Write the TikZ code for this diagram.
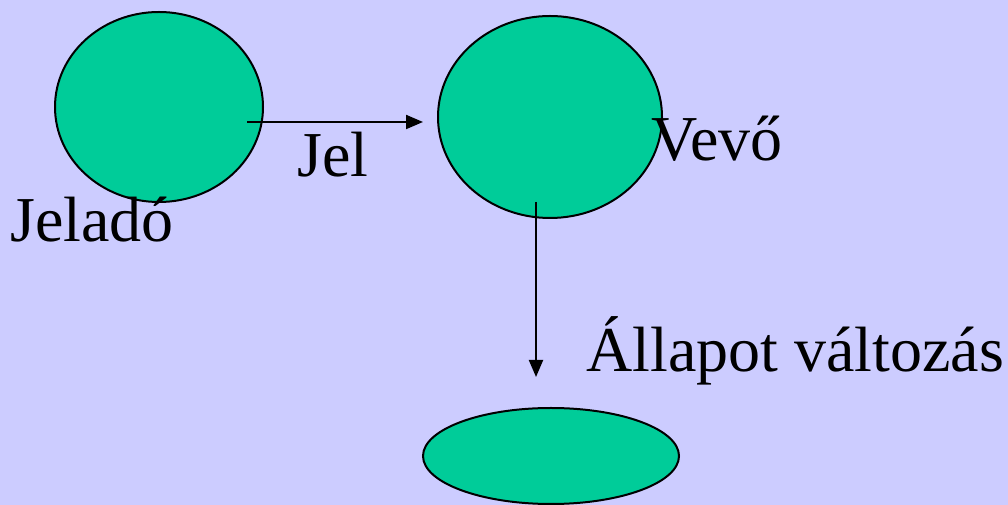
\documentclass[tikz,border=0pt]{standalone}
\usepackage{fontspec}
\setmainfont{Liberation Serif}
\usetikzlibrary{shapes.geometric,arrows.meta}
\definecolor{bg}{HTML}{CCCCFF}
\definecolor{blob}{HTML}{00CC99}
\tikzset{
  blobnode/.style={ellipse,draw=black,line width=2pt,fill=blob,inner sep=0pt},
  lbl/.style={inner sep=0pt,anchor=base west,font=\fontsize{64}{70}\selectfont},
  conn/.style={line width=2pt,-{Triangle[length=17pt,width=14pt]}}
}
\begin{document}
\begin{tikzpicture}[x=1pt,y=1pt]
\fill[bg] (0,0) rectangle (1008,505);
\useasboundingbox (0,0) rectangle (1008,505);
\node[blobnode,minimum width=208pt,minimum height=190pt] (jelado) at (159,398) {};
\node[blobnode,minimum width=224pt,minimum height=202pt] (vevo) at (550,388) {};
\node[blobnode,minimum width=256pt,minimum height=96pt] (allapot) at (551,49) {};
\coordinate (a1s) at (247,383);
\coordinate (a1e) at (423,383);
\coordinate (a2s) at (536,303);
\coordinate (a2e) at (536,128);
\draw[conn] (a1s) -- (a1e);
\draw[conn] (a2s) -- (a2e);
\node[lbl] (tjel) at (297,328) {Jel};
\node[lbl] (tjelado) at (10,263) {Jeladó};
\node[lbl] (tvevo) at (651,344) {Vevő};
\node[lbl] (tallapot) at (586,133) {Állapot változás};
\end{tikzpicture}
\end{document}
